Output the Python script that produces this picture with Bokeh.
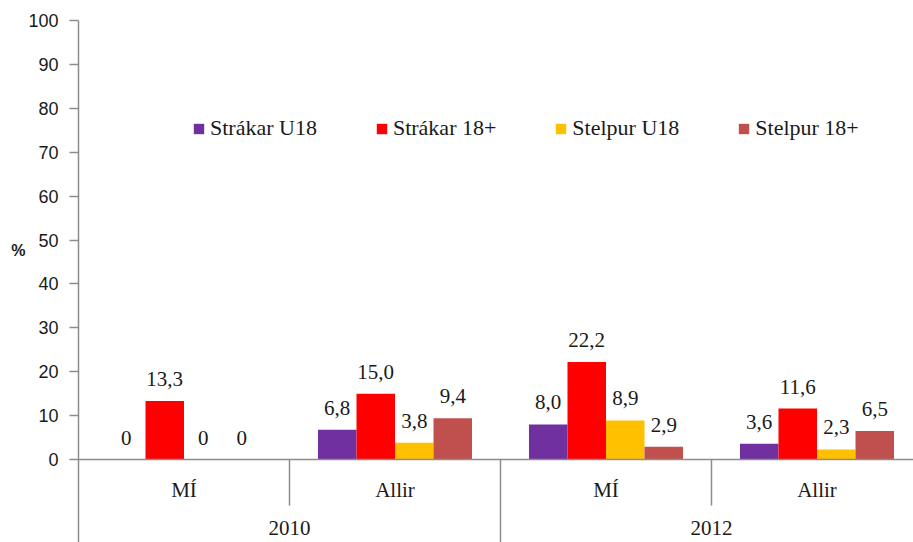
from bokeh.plotting import figure
from bokeh.models import (Range1d, FixedTicker, Legend, LegendItem, LinearAxis,
                          ColumnDataSource, Span)
from bokeh.core.properties import value
from bokeh.embed import file_html
from bokeh.resources import INLINE

# ---- data ----
subgroups = ["MÍ", "Allir", "MÍ", "Allir"]
years = ["2010", "2012"]
series_names = ["Strákar U18", "Strákar 18+", "Stelpur U18", "Stelpur 18+"]
strakar_u18 = [0, 6.8, 8.0, 3.6]
strakar_18 = [13.3, 15.0, 22.2, 11.6]
stelpur_u18 = [0, 3.8, 8.9, 2.3]
stelpur_18 = [0, 9.4, 2.9, 6.5]
y_ticks = [0, 10, 20, 30, 40, 50, 60, 70, 80, 90, 100]

series_values = [strakar_u18, strakar_18, stelpur_u18, stelpur_18]
colors = ["#7030A0", "#FF0000", "#FFC000", "#C0504D"]

SERIF = "Liberation Serif"
SANS = "Liberation Sans"
GRAY = "#8c8c8c"

W, H = 913, 542
LEFT = 78
TOP = 20
frame_w = W - LEFT
frame_h = H - TOP
group_px = 211.0
x_end = frame_w / group_px
px_per_unit = 4.39
y_bottom = 100 - frame_h / px_per_unit

p = figure(width=W, height=H, output_backend="svg", toolbar_location=None,
           x_range=Range1d(0, x_end), y_range=Range1d(y_bottom, 100),
           min_border_left=LEFT, min_border_top=TOP, min_border_bottom=0,
           min_border_right=0)
p.outline_line_color = None
p.grid.visible = False
p.xaxis.visible = False

ya = p.yaxis[0]
ya.ticker = FixedTicker(ticks=y_ticks, minor_ticks=[])
ya.axis_line_color = GRAY
ya.axis_line_width = 1.5
ya.major_tick_line_color = GRAY
ya.major_tick_line_width = 1.5
ya.major_tick_out = 9
ya.major_tick_in = 0
ya.minor_tick_out = 0
ya.minor_tick_in = 0
ya.major_label_standoff = 11
ya.major_label_text_font = SANS
ya.major_label_text_font_size = "18px"
ya.major_label_text_color = "#1a1a1a"

# second, label-only axis for the "%" title (blank lines lift it upward)
pct_axis = LinearAxis(axis_label="%\n \n \n ",
                      ticker=FixedTicker(ticks=[], minor_ticks=[]),
                      axis_line_color=None, major_tick_line_color=None,
                      minor_tick_line_color=None, major_label_text_font_size="0px",
                      axis_label_orientation="horizontal", axis_label_standoff=0,
                      axis_label_text_font=SANS, axis_label_text_font_size="16px",
                      axis_label_text_font_style="bold",
                      axis_label_text_color="#1a1a1a")
p.add_layout(pct_axis, "left")

n = len(subgroups)
bar_w = 0.1825
offsets = [-1.5, -0.5, 0.5, 1.5]
centers = [i + 0.5 for i in range(n)]

def fmt(v):
    return "0" if v == 0 else f"{v:.1f}".replace(".", ",")

renderers = []
for name, vals, col, off in zip(series_names, series_values, colors, offsets):
    xs = [c + off * bar_w for c in centers]
    src = ColumnDataSource(dict(x=xs, top=vals, lab=[fmt(v) for v in vals]))
    r = p.vbar(x="x", top="top", bottom=0, width=bar_w, source=src,
               fill_color=col, line_color=None)
    renderers.append((name, r))
    p.text(x="x", y="top", text="lab", source=src, text_align="center",
           text_baseline="alphabetic", y_offset=-22,
           text_font=value(SERIF), text_font_size="21px", text_color="#1a1a1a")

# baseline
p.add_layout(Span(location=0, dimension="width", line_color=GRAY, line_width=1.5))

# category separators
p.segment(x0=[1, 3], y0=[0, 0], x1=[1, 3], y1=[-10.5, -10.5],
          line_color=GRAY, line_width=1.5)
p.segment(x0=[2], y0=[0], x1=[2], y1=[y_bottom], line_color=GRAY, line_width=1.5)

# category labels
p.text(x=centers, y=[-7.0] * n, text=subgroups, text_align="center",
       text_baseline="middle", text_font=value(SERIF), text_font_size="21px",
       text_color="#1a1a1a")
year_x = [1.0, 3.0]
p.text(x=year_x, y=[-15.5] * len(years), text=years, text_align="center",
       text_baseline="middle", text_font=value(SERIF), text_font_size="21px",
       text_color="#1a1a1a")

legend = Legend(items=[LegendItem(label=nm, renderers=[r]) for nm, r in renderers],
                orientation="horizontal", location=(114, 401),
                glyph_width=13, glyph_height=13, label_standoff=5, spacing=58,
                padding=0, margin=0, border_line_color=None,
                background_fill_alpha=0, label_text_font=SERIF,
                label_text_font_size="22px", label_text_color="#1a1a1a")
p.add_layout(legend)

open("out.html", "w").write(file_html(p, INLINE))
